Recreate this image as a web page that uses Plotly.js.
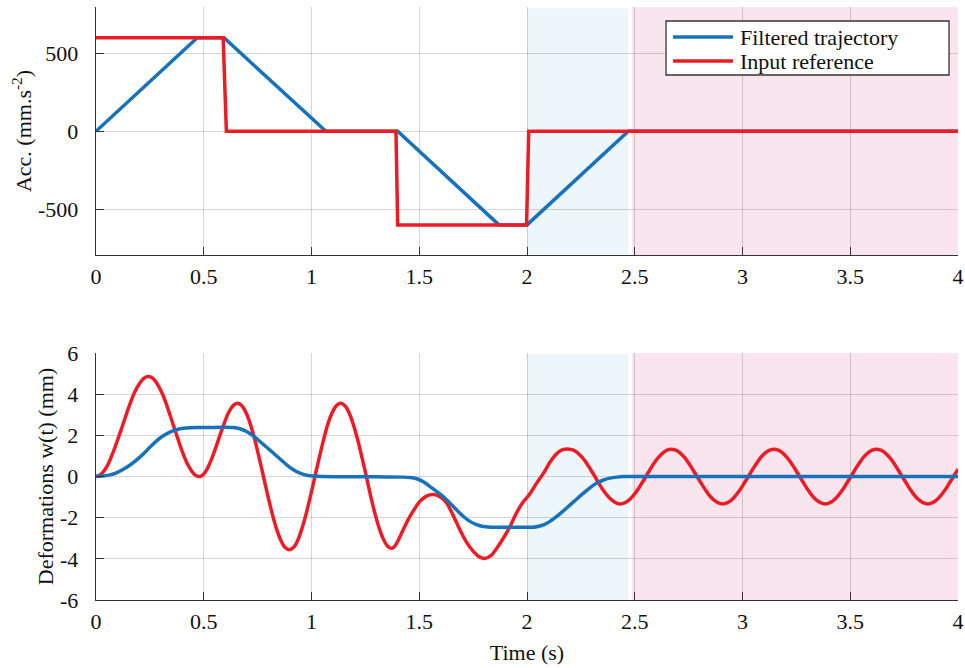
<!DOCTYPE html>
<html>
<head>
<meta charset="utf-8">
<script src="https://cdn.plot.ly/plotly-3.0.1.min.js"></script>
<style>html,body{margin:0;padding:0;background:#fff;}#chart{width:965px;height:668px;}</style>
</head>
<body>
<div id="chart"></div>
<script>
// ---- Top panel: acceleration (mm.s^-2) ----
var accFilteredT = [0, 0.47, 0.594, 1.067, 1.40, 1.87, 2.0, 2.47, 4.0];
var accFilteredV = [0, 600, 600, 0, 0, -600, -600, 0, 0];
var accInputT = [0, 0.59, 0.605, 1.392, 1.40, 1.998, 2.008, 4.0];
var accInputV = [600, 600, 0, 0, -600, -600, 0, 0];

// ---- Bottom panel: deformations w(t) (mm) ----
var defFilteredT = [0, 0.03, 0.065, 0.095, 0.127, 0.158, 0.189, 0.22, 0.25, 0.28, 0.312, 0.343, 0.374, 0.405, 0.436, 0.47, 0.52, 0.58, 0.637, 0.668, 0.699, 0.73, 0.761, 0.792, 0.823, 0.854, 0.885, 0.916, 0.947, 0.978, 1.009, 1.05, 1.15, 1.25, 1.35, 1.426, 1.457, 1.488, 1.519, 1.55, 1.58, 1.611, 1.642, 1.673, 1.704, 1.735, 1.766, 1.797, 1.83, 1.9, 1.97, 2.029, 2.05, 2.076, 2.107, 2.138, 2.169, 2.2, 2.231, 2.262, 2.293, 2.324, 2.355, 2.385, 2.416, 2.447, 2.5, 3.0, 3.5, 4.0];
var defFilteredV = [0, 0.02, 0.08, 0.18, 0.35, 0.56, 0.81, 1.1, 1.42, 1.72, 1.98, 2.16, 2.27, 2.34, 2.37, 2.38, 2.38, 2.39, 2.38, 2.32, 2.19, 1.97, 1.70, 1.42, 1.14, 0.85, 0.57, 0.33, 0.16, 0.06, 0.02, 0, -0.01, -0.01, -0.02, -0.03, -0.05, -0.11, -0.26, -0.49, -0.72, -0.97, -1.29, -1.62, -1.93, -2.18, -2.34, -2.43, -2.46, -2.46, -2.46, -2.46, -2.43, -2.35, -2.18, -1.94, -1.67, -1.38, -1.09, -0.81, -0.54, -0.32, -0.17, -0.08, -0.03, 0, 0, 0, 0, 0];
var defInputT = [
  0, 0.020, 0.041, 0.061, 0.081, 0.101, 0.122, 0.142, 0.162, 0.182, 0.203, 0.223, 0.243,
  0.263, 0.282, 0.302, 0.322, 0.341, 0.361, 0.381, 0.400, 0.420, 0.440, 0.459, 0.479,
  0.494, 0.509, 0.523, 0.538, 0.553, 0.568, 0.583, 0.598, 0.612, 0.627, 0.642, 0.657,
  0.677, 0.697, 0.717, 0.737, 0.757, 0.777, 0.797, 0.817, 0.837, 0.857, 0.877, 0.897,
  0.917, 0.937, 0.956, 0.976, 0.996, 1.016, 1.036, 1.056, 1.075, 1.095, 1.115, 1.135,
  1.155, 1.175, 1.194, 1.214, 1.234, 1.254, 1.273, 1.293, 1.313, 1.333, 1.352, 1.372,
  1.382, 1.392, 1.411, 1.434, 1.457, 1.480, 1.503, 1.534, 1.565,
  1.596, 1.627, 1.658, 1.689, 1.720, 1.751, 1.778, 1.805,
  1.832, 1.859, 1.890, 1.921, 1.945, 1.968, 1.985, 2.000, 2.020, 2.045, 2.076, 2.107, 2.130, 2.153, 2.175, 2.196,
  2.216, 2.235, 2.255, 2.275, 2.295, 2.315, 2.334, 2.354, 2.374, 2.394, 2.413, 2.433,
  2.453, 2.473, 2.492, 2.512, 2.532, 2.552, 2.571, 2.591, 2.611, 2.631, 2.650, 2.670,
  2.690, 2.710, 2.730, 2.749, 2.769, 2.789, 2.809, 2.829, 2.848, 2.868, 2.888, 2.908,
  2.928, 2.948, 2.967, 2.987, 3.007, 3.027, 3.047, 3.067, 3.086, 3.106, 3.126, 3.146,
  3.166, 3.186, 3.205, 3.225, 3.245, 3.265, 3.285, 3.305, 3.324, 3.344, 3.364, 3.384,
  3.404, 3.424, 3.443, 3.463, 3.483, 3.503, 3.523, 3.543, 3.562, 3.582, 3.602, 3.622,
  3.642, 3.662, 3.681, 3.701, 3.721, 3.741, 3.761, 3.781, 3.800, 3.820, 3.840, 3.860,
  3.880, 3.900, 3.919, 3.939, 3.959, 3.979, 4.0];
var defInputV = [
  0, 0.08, 0.33, 0.71, 1.22, 1.80, 2.43, 3.06, 3.65, 4.15, 4.53, 4.78, 4.86,
  4.78, 4.53, 4.15, 3.65, 3.06, 2.43, 1.80, 1.22, 0.71, 0.33, 0.08, 0,
  0.06, 0.24, 0.52, 0.89, 1.32, 1.78, 2.24, 2.67, 3.04, 3.32, 3.50, 3.56,
  3.44, 3.08, 2.52, 1.78, 0.92, 0, -0.92, -1.78, -2.52, -3.08, -3.44, -3.56,
  -3.44, -3.08, -2.52, -1.78, -0.92, 0, 0.92, 1.78, 2.52, 3.08, 3.44, 3.56,
  3.44, 3.09, 2.53, 1.80, 0.94, 0.03, -0.88, -1.74, -2.47, -3.03, -3.38, -3.50,
  -3.44, -3.30, -2.91, -2.40, -1.94, -1.55, -1.21, -0.95, -0.88,
  -0.98, -1.29, -1.90, -2.59, -3.20, -3.64, -3.90, -3.98,
  -3.85, -3.50, -3.00, -2.43, -1.90, -1.46, -1.20, -1.02, -0.74, -0.32, 0.15, 0.70, 1.02, 1.24, 1.32, 1.33,
  1.28, 1.15, 0.94, 0.67, 0.34, 0, -0.34, -0.67, -0.94, -1.15, -1.28, -1.33,
  -1.28, -1.15, -0.94, -0.67, -0.34, 0, 0.34, 0.67, 0.94, 1.15, 1.28, 1.33,
  1.28, 1.15, 0.94, 0.67, 0.34, 0, -0.34, -0.67, -0.94, -1.15, -1.28, -1.33,
  -1.28, -1.15, -0.94, -0.67, -0.34, 0, 0.34, 0.67, 0.94, 1.15, 1.28, 1.33,
  1.28, 1.15, 0.94, 0.67, 0.34, 0, -0.34, -0.67, -0.94, -1.15, -1.28, -1.33,
  -1.28, -1.15, -0.94, -0.67, -0.34, 0, 0.34, 0.67, 0.94, 1.15, 1.28, 1.33,
  1.28, 1.15, 0.94, 0.67, 0.34, 0, -0.34, -0.67, -0.94, -1.15, -1.28, -1.33,
  -1.28, -1.15, -0.94, -0.67, -0.34, 0, 0.36];

// ---- Shaded time zones (s) ----
var zoneBlue = [2.0, 2.47];
var zonePink = [2.487, 4.0];

// ---- Tick labels ----
var xTickVals = [0, 0.5, 1, 1.5, 2, 2.5, 3, 3.5, 4];
var xTickText = ["0", "0.5", "1", "1.5", "2", "2.5", "3", "3.5", "4"];
var accTickVals = [-500, 0, 500];
var accTickText = ["-500", "0", "500"];
var defTickVals = [-6, -4, -2, 0, 2, 4, 6];
var defTickText = ["-6", "-4", "-2", "0", "2", "4", "6"];

// ---- Legend labels ----
var seriesNames = ["Filtered trajectory", "Input reference"];

var BLUE = '#1772BA', RED = '#ED1C24';
var FONT = 'Liberation Serif';
var FS = 22;
var TXT = {family: FONT, size: FS, color: '#111'};

var traces = [
  {x: accFilteredT, y: accFilteredV, type: 'scatter', mode: 'lines', name: seriesNames[0],
   line: {color: BLUE, width: 3.5}, xaxis: 'x', yaxis: 'y'},
  {x: accInputT, y: accInputV, type: 'scatter', mode: 'lines', name: seriesNames[1],
   line: {color: RED, width: 3.5}, xaxis: 'x', yaxis: 'y'},
  {x: defInputT, y: defInputV, type: 'scatter', mode: 'lines', name: seriesNames[1],
   line: {color: RED, width: 3.5, shape: 'spline', smoothing: 0.8}, xaxis: 'x2', yaxis: 'y2'},
  {x: defFilteredT, y: defFilteredV, type: 'scatter', mode: 'lines', name: seriesNames[0],
   line: {color: BLUE, width: 3.5, shape: 'spline', smoothing: 0.8}, xaxis: 'x2', yaxis: 'y2'}
];

function xAxis(anchor) {
  return {anchor: anchor, range: [0, 4], tickmode: 'array', tickvals: xTickVals, ticktext: xTickText,
    showgrid: true, gridcolor: 'rgba(0,0,0,0.16)', gridwidth: 1, zeroline: false,
    showline: true, linecolor: '#333', linewidth: 1.3, ticks: 'inside', ticklen: 8,
    tickcolor: '#333', tickwidth: 1, ticklabelstandoff: 1,
    tickfont: {family: FONT, size: FS, color: '#111'}};
}
function yAxis(anchor, range, vals, text, domain, title) {
  return {anchor: anchor, range: range, domain: domain, tickmode: 'array', tickvals: vals, ticktext: text,
    showgrid: true, gridcolor: 'rgba(0,0,0,0.16)', gridwidth: 1, zeroline: false,
    showline: true, linecolor: '#333', linewidth: 1.3, ticks: 'inside', ticklen: 8,
    tickcolor: '#333', tickwidth: 1, ticklabelstandoff: 12,
    tickfont: {family: FONT, size: FS, color: '#111'},
    title: {text: title, font: {family: FONT, size: FS, color: '#111'}, standoff: 0}};
}

var shapes = [];
[['x', 'y'], ['x2', 'y2']].forEach(function (ax) {
  shapes.push({type: 'rect', layer: 'below', xref: ax[0], yref: ax[1] + ' domain',
    x0: zoneBlue[0], x1: zoneBlue[1], y0: 0, y1: 0.995, fillcolor: '#EDF6FA', line: {width: 0}});
  shapes.push({type: 'rect', layer: 'below', xref: ax[0], yref: ax[1] + ' domain',
    x0: zonePink[0], x1: zonePink[1], y0: 0, y1: 1, fillcolor: '#F9E5EE', line: {width: 0}});
});

// legend box drawn in paper coordinates (top panel, upper right)
var LG = {x0: 0.6613, x1: 0.9896, y0: 0.8853, y1: 0.9764, sx0: 0.6694, sx1: 0.7390, tx: 0.7448, rows: [0.9494, 0.9089]};
shapes.push({type: 'rect', xref: 'paper', yref: 'paper', x0: LG.x0, x1: LG.x1, y0: LG.y0, y1: LG.y1,
  fillcolor: '#fff', line: {color: '#333', width: 1.3}, layer: 'above'});
var legendColors = [BLUE, RED];
var annotations = [];
seriesNames.forEach(function (nm, i) {
  shapes.push({type: 'line', xref: 'paper', yref: 'paper', x0: LG.sx0, x1: LG.sx1, y0: LG.rows[i], y1: LG.rows[i],
    line: {color: legendColors[i], width: 3.5}, layer: 'above'});
  annotations.push({xref: 'paper', yref: 'paper', x: LG.tx, y: LG.rows[i], xanchor: 'left', yanchor: 'middle',
    text: nm, showarrow: false, font: TXT});
});

var xa2 = xAxis('y2');
xa2.title = {text: 'Time (s)', font: TXT, standoff: 12};

var layout = {
  width: 965, height: 668,
  font: TXT,
  margin: {l: 96, r: 7, t: 7, b: 68},
  paper_bgcolor: '#fff', plot_bgcolor: 'rgba(0,0,0,0)',
  showlegend: false,
  xaxis: xAxis('y'),
  yaxis: yAxis('x', [-793, 797], accTickVals, accTickText, [0.5818, 1], 'Acc. (mm.s<sup>-2</sup>)'),
  xaxis2: xa2,
  yaxis2: yAxis('x2', [-6, 6], defTickVals, defTickText, [0, 0.4165], 'Deformations w(t) (mm)'),
  shapes: shapes,
  annotations: annotations
};

Plotly.newPlot('chart', traces, layout, {staticPlot: true, displayModeBar: false});
</script>
</body>
</html>
